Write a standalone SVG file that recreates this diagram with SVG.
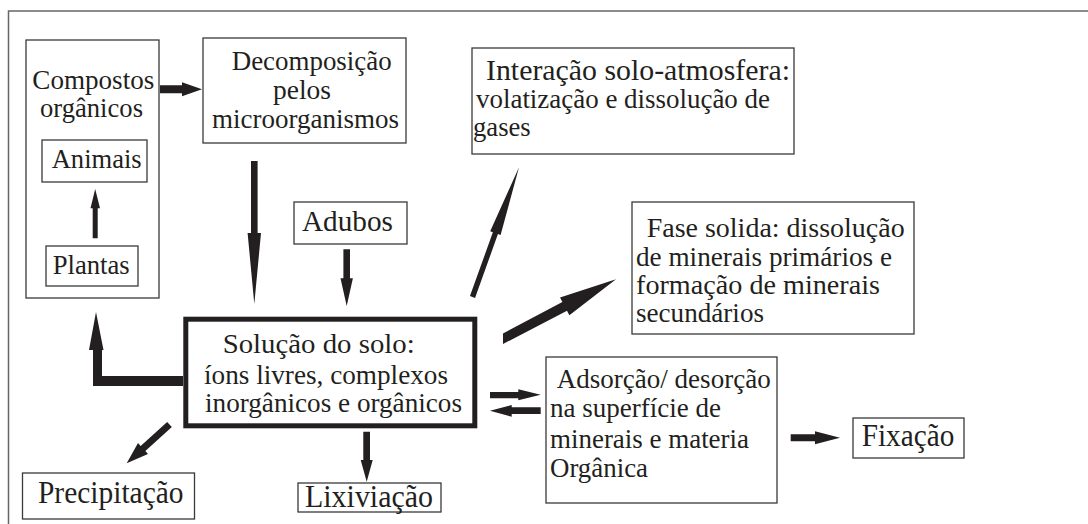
<svg xmlns="http://www.w3.org/2000/svg" width="1088" height="524" viewBox="0 0 1088 524">
<style>
.box{fill:#fff;stroke:#3a3a3a;stroke-width:1.3}
.t{font-family:"Liberation Serif","Times New Roman",serif;font-size:27px;fill:#231f20}
.m{font-size:29.5px}
.l{font-size:31px}
.h{font-size:30px}
.ar{fill:#231f20;stroke:none}
</style>
<rect width="1088" height="524" fill="#fff"/>
<path d="M8.5,524 V11 H1088" fill="none" stroke="#666" stroke-width="1.5"/>
<g id="compostos">
<rect class="box" x="26" y="40" width="133" height="258"/>
<text class="t" x="32.3" y="89.3" textLength="122" lengthAdjust="spacingAndGlyphs">Compostos</text>
<text class="t" x="40" y="117" textLength="103" lengthAdjust="spacingAndGlyphs">orgânicos</text>
</g>
<g id="animais">
<rect class="box" x="42" y="140" width="105" height="42"/>
<text class="t" x="51.7" y="168" textLength="90" lengthAdjust="spacingAndGlyphs">Animais</text>
</g>
<g id="plantas">
<rect class="box" x="46" y="246" width="92" height="40"/>
<text class="t" x="52.7" y="274" textLength="77" lengthAdjust="spacingAndGlyphs">Plantas</text>
</g>
<g id="decomposicao">
<rect class="box" x="203" y="38" width="203" height="105"/>
<text class="t" x="231.7" y="70" textLength="160" lengthAdjust="spacingAndGlyphs">Decomposição</text>
<text class="t" x="273" y="99" textLength="58" lengthAdjust="spacingAndGlyphs">pelos</text>
<text class="t" x="212" y="128" textLength="187" lengthAdjust="spacingAndGlyphs">microorganismos</text>
</g>
<g id="adubos">
<rect class="box" x="294" y="202" width="113" height="42"/>
<text class="t m" x="302" y="230.7" textLength="91" lengthAdjust="spacingAndGlyphs">Adubos</text>
</g>
<g id="interacao">
<rect class="box" x="472" y="48" width="322" height="106"/>
<text class="t h" x="486" y="79.5" textLength="304" lengthAdjust="spacingAndGlyphs">Interação solo-atmosfera:</text>
<text class="t" x="476" y="108.3" textLength="294" lengthAdjust="spacingAndGlyphs">volatização e dissolução de</text>
<text class="t" x="473" y="136" textLength="57.7" lengthAdjust="spacingAndGlyphs">gases</text>
</g>
<g id="fase">
<rect class="box" x="632" y="202" width="282" height="132"/>
<text class="t" x="646.7" y="237" textLength="258" lengthAdjust="spacingAndGlyphs">Fase solida: dissolução</text>
<text class="t" x="636" y="266" textLength="256" lengthAdjust="spacingAndGlyphs">de minerais primários e</text>
<text class="t" x="636" y="293.5" textLength="244" lengthAdjust="spacingAndGlyphs">formação de minerais</text>
<text class="t" x="636" y="321.7" textLength="128" lengthAdjust="spacingAndGlyphs">secundários</text>
</g>
<g id="solucao">
<rect x="185.8" y="319.2" width="289" height="106.6" fill="#fff" stroke="#231f20" stroke-width="5"/>
<text class="t" x="222.7" y="353.3" textLength="192" lengthAdjust="spacingAndGlyphs">Solução do solo:</text>
<text class="t" x="204" y="384" textLength="244" lengthAdjust="spacingAndGlyphs">íons livres, complexos</text>
<text class="t" x="205" y="411.7" textLength="257" lengthAdjust="spacingAndGlyphs">inorgânicos e orgânicos</text>
</g>
<g id="adsorcao">
<rect class="box" x="546" y="357" width="231" height="146"/>
<text class="t" x="556.7" y="388.3" textLength="214" lengthAdjust="spacingAndGlyphs">Adsorção/ desorção</text>
<text class="t" x="550" y="417" textLength="171" lengthAdjust="spacingAndGlyphs">na superfície de</text>
<text class="t" x="550" y="447.5" textLength="199" lengthAdjust="spacingAndGlyphs">minerais e materia</text>
<text class="t" x="550" y="476.5" textLength="98" lengthAdjust="spacingAndGlyphs">Orgânica</text>
</g>
<g id="fixacao">
<rect class="box" x="853" y="418" width="111" height="40"/>
<text class="t l" x="861.7" y="446" textLength="92.6" lengthAdjust="spacingAndGlyphs">Fixação</text>
</g>
<g id="precipitacao">
<rect class="box" x="22.5" y="473" width="172" height="46"/>
<text class="t l" x="38" y="502.5" textLength="145.5" lengthAdjust="spacingAndGlyphs">Precipitação</text>
</g>
<g id="lixiviacao">
<rect class="box" x="298" y="483" width="143" height="29"/>
<text class="t l" x="305" y="506.5" textLength="128" lengthAdjust="spacingAndGlyphs">Lixiviação</text>
</g>
<g id="connectors">
<polygon class="ar" points="160,85.3 182,85.3 182,82.3 202,89.3 182,96.3 182,93.3 160,93.3"/>
<polygon class="ar" points="251,161 257.6,161 257.6,233 261,233 254.3,304 247.6,233 251,233"/>
<polygon class="ar" points="343.4,249.3 350,249.3 350,278.3 352.9,278.3 346.7,306 340.5,278.3 343.4,278.3"/>
<polygon class="ar" points="92.7,238.3 97.7,238.3 97.7,208.3 100,208.3 95.2,189 90.5,208.3 92.7,208.3"/>
<polygon class="ar" points="183,376 102,376 102,350 103.5,350 96,312 89,350 93,350 93,386 183,386"/>
<polygon class="ar" points="363.3,431.7 370,431.7 370,460 372.7,460 366.7,481.7 360.7,460 363.3,460"/>
<polygon class="ar" points="490,392 518.3,392 518.3,389.2 540.7,394.7 518.3,400.2 518.3,398.3 490,398.3"/>
<polygon class="ar" points="540.7,407.3 511.7,407.3 511.7,405 490,410.7 511.7,416.7 511.7,414 540.7,414"/>
<polygon class="ar" points="790.7,434.2 815,434.2 815,431.2 840,437.7 815,444.2 815,441.2 790.7,441.2"/>
<polygon class="ar" points="167.15,421.9 171.85,427.1 145.35,451.1 148,454.1 126.7,463.3 138,442.9 140.65,445.9"/>
<polygon class="ar" points="469.96,296.09 475.04,297.91 497.94,234.11 500.6,235.06 519,167.3 490.2,231.34 492.86,232.29"/>
<polygon class="ar" points="503,333.5 562.37,301.88 560.04,297.45 616,279.3 569.36,315.15 567.03,310.73 503,344"/>
</g>
</svg>
